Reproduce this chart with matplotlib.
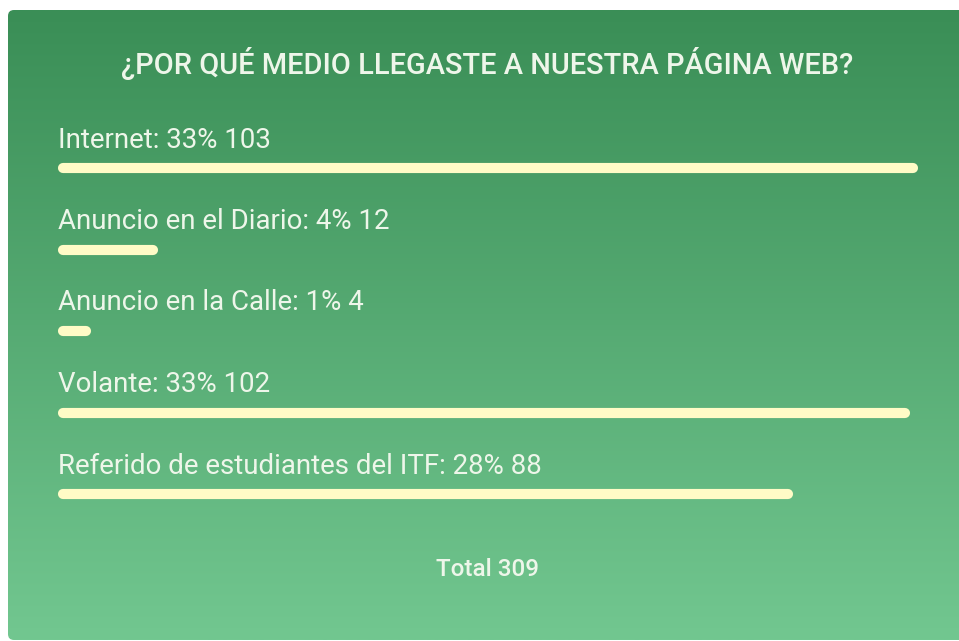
import numpy as np
import matplotlib
matplotlib.use("Agg")
from matplotlib import pyplot as plt
from matplotlib.patches import FancyBboxPatch

# data
categorias = ["Internet", "Anuncio en el Diario", "Anuncio en la Calle", "Volante",
              "Referido de estudiantes del ITF"]
porcentajes = [33, 4, 1, 33, 28]
votos = [103, 12, 4, 102, 88]
total = 309
titulo = "¿POR QUÉ MEDIO LLEGASTE A NUESTRA PÁGINA WEB?"

W, H = 959, 641
fig = plt.figure(figsize=(W / 100, H / 100), dpi=100)
fig.patch.set_facecolor("white")

# background axes in pixel coordinates
bg = fig.add_axes([0, 0, 1, 1])
bg.set_xlim(0, W)
bg.set_ylim(H, 0)
bg.axis("off")

top = np.array([58, 142, 86]) / 255
bot = np.array([114, 199, 144]) / 255
t = np.linspace(0, 1, 256)[:, None]
grad = (top[None, :] * (1 - t) + bot[None, :] * t)[:, None, :]
im = bg.imshow(grad, extent=[8, W, 640, 10], aspect="auto", zorder=0)
panel = FancyBboxPatch((8, 10), W - 8 + 10, 630, boxstyle="round,pad=0,rounding_size=6",
                       transform=bg.transData, facecolor="none", edgecolor="none")
bg.add_patch(panel)
im.set_clip_path(panel)

fuente = ["Roboto", "DejaVu Sans"]
txt = "#eef6ea"
renderer = fig.canvas.get_renderer()


def ajustar(t, ancho):
    # scale font so the text is about as wide as in the original
    w = t.get_window_extent(renderer).width
    t.set_fontsize(t.get_fontsize() * ancho / w)


t1 = bg.text(487, 64, titulo, ha="center", va="center", fontsize=20, color=txt,
             family=fuente, fontweight="medium")
ajustar(t1, 729)
t2 = bg.text(487, 570, f"Total {total}", ha="center", va="center", fontsize=15, color=txt,
             family=fuente, fontweight="medium")
ajustar(t2, 103)

# bars axes: x from pixel 58 to 918, rows centered at 168 .. 494
fila0, paso = 168, 81.5
y_top = fila0 - paso / 2
y_bot = fila0 + paso * 4.5
ax = fig.add_axes([58 / W, 1 - y_bot / H, 860 / W, (y_bot - y_top) / H])
ax.set_xlim(0, max(votos))
ax.set_ylim(len(votos) - 0.5, -0.5)
ax.axis("off")
ax.patch.set_alpha(0)

r = 5 / 860 * max(votos)  # half of bar thickness in data units
etiquetas = []
for i, (c, p, v) in enumerate(zip(categorias, porcentajes, votos)):
    ax.plot([r, v - r], [i, i], color="#fffbc6", linewidth=7.3,
            solid_capstyle="round", zorder=3)
    a = ax.annotate(f"{c}: {p}% {v}", xy=(0, i), xytext=(0, 28), textcoords="offset pixels",
                    ha="left", va="center", fontsize=18, color=txt, family=fuente)
    etiquetas.append(a)

# size labels so the longest one spans about as much as in the original
w0 = etiquetas[-1].get_window_extent(renderer).width
fs = etiquetas[-1].get_fontsize() * 483 / w0
for a in etiquetas:
    a.set_fontsize(fs)

fig.savefig("out.png", dpi=100)
